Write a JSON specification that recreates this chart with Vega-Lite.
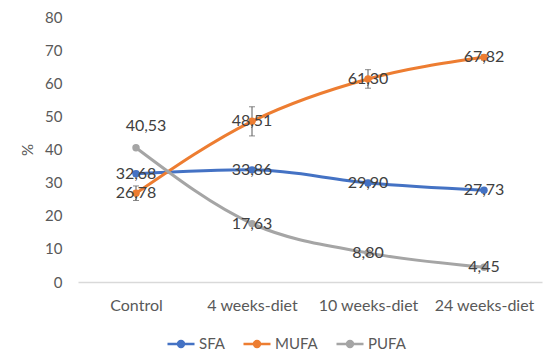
{
  "$schema": "https://vega.github.io/schema/vega-lite/v6.json",
  "width": 464,
  "height": 265,
  "autosize": "none",
  "padding": {"left": 78, "top": 17, "right": 16, "bottom": 80},
  "background": "white",
  "config": {
    "view": {"stroke": null},
    "font": "Lato",
    "locale": {"number": {"decimal": ",", "thousands": ".", "grouping": [3], "currency": ["", " €"]}}
  },
  "data": {
    "values": [
      {"t": "Control", "s": "SFA", "v": 32.68, "lo": 32.0, "hi": 33.4},
      {"t": "4 weeks-diet", "s": "SFA", "v": 33.86, "lo": 33.2, "hi": 34.5},
      {"t": "10 weeks-diet", "s": "SFA", "v": 29.90, "lo": 29.1, "hi": 30.7},
      {"t": "24 weeks-diet", "s": "SFA", "v": 27.73, "lo": 27.2, "hi": 28.3},
      {"t": "Control", "s": "MUFA", "v": 26.78, "lo": 24.6, "hi": 29.0},
      {"t": "4 weeks-diet", "s": "MUFA", "v": 48.51, "lo": 44.1, "hi": 52.9},
      {"t": "10 weeks-diet", "s": "MUFA", "v": 61.30, "lo": 58.5, "hi": 64.1},
      {"t": "24 weeks-diet", "s": "MUFA", "v": 67.82, "lo": 67.0, "hi": 68.6},
      {"t": "Control", "s": "PUFA", "v": 40.53, "lo": 40.0, "hi": 41.0},
      {"t": "4 weeks-diet", "s": "PUFA", "v": 17.63, "lo": 17.1, "hi": 18.1},
      {"t": "10 weeks-diet", "s": "PUFA", "v": 8.80, "lo": 8.3, "hi": 9.3},
      {"t": "24 weeks-diet", "s": "PUFA", "v": 4.45, "lo": 4.0, "hi": 4.9}
    ]
  },
  "encoding": {
    "x": {
      "field": "t", "type": "nominal",
      "sort": ["Control", "4 weeks-diet", "10 weeks-diet", "24 weeks-diet"],
      "scale": {"type": "point", "padding": 0.5},
      "axis": {"title": null, "labelAngle": 0, "ticks": false, "domainColor": "#D9D9D9", "domainWidth": 1.5, "labelFontSize": 16, "labelColor": "#595959", "labelPadding": 15, "labelFont": "Lato"}
    },
    "y": {
      "field": "v", "type": "quantitative",
      "scale": {"domain": [0, 80], "nice": false},
      "axis": {"title": "%", "titleFontSize": 15, "titleFontWeight": "normal", "titleColor": "#595959", "titlePadding": 9, "values": [0,10,20,30,40,50,60,70,80], "grid": false, "domain": false, "ticks": false, "labelFontSize": 15, "labelColor": "#595959", "labelPadding": 16}
    },
    "color": {
      "field": "s", "type": "nominal",
      "scale": {"domain": ["SFA", "MUFA", "PUFA"], "range": ["#4472C4", "#ED7D31", "#A5A5A5"]},
      "legend": {
        "title": null, "orient": "none", "direction": "horizontal", "legendX": 88, "legendY": 312,
        "labelFontSize": 15, "labelColor": "#595959", "columnPadding": 13, "labelOffset": 3,
        "symbolType": "M-1,0L1,0M-0.22,0A0.22,0.22 0 1,0 0.22,0A0.22,0.22 0 1,0 -0.22,0Z",
        "symbolSize": 730, "symbolStrokeWidth": 2.5
      }
    }
  },
  "layer": [
    {"mark": {"type": "line", "interpolate": "monotone", "strokeWidth": 3}},
    {
      "mark": {"type": "rule", "color": "#595959", "strokeWidth": 1},
      "encoding": {"y": {"field": "lo", "type": "quantitative"}, "y2": {"field": "hi"}, "color": {"value": "#595959"}}
    },
    {
      "mark": {"type": "tick", "color": "#595959", "thickness": 1, "size": 6},
      "encoding": {"y": {"field": "lo", "type": "quantitative"}, "color": {"value": "#595959"}}
    },
    {
      "mark": {"type": "tick", "color": "#595959", "thickness": 1, "size": 6},
      "encoding": {"y": {"field": "hi", "type": "quantitative"}, "color": {"value": "#595959"}}
    },
    {"mark": {"type": "point", "filled": true, "size": 55, "opacity": 1}},
    {
      "transform": [{"filter": "!(datum.t == 'Control' && datum.s == 'PUFA')"}],
      "mark": {"type": "text", "fontSize": 16, "color": "#404040", "align": "center", "baseline": "middle"},
      "encoding": {"text": {"field": "v", "type": "quantitative", "format": ".2f"}, "color": {"value": "#404040"}}
    },
    {
      "transform": [{"filter": "datum.t == 'Control' && datum.s == 'PUFA'"}],
      "mark": {"type": "text", "fontSize": 16, "color": "#404040", "align": "center", "baseline": "middle", "dx": 10, "dy": -22},
      "encoding": {"text": {"field": "v", "type": "quantitative", "format": ".2f"}, "color": {"value": "#404040"}}
    }
  ]
}
